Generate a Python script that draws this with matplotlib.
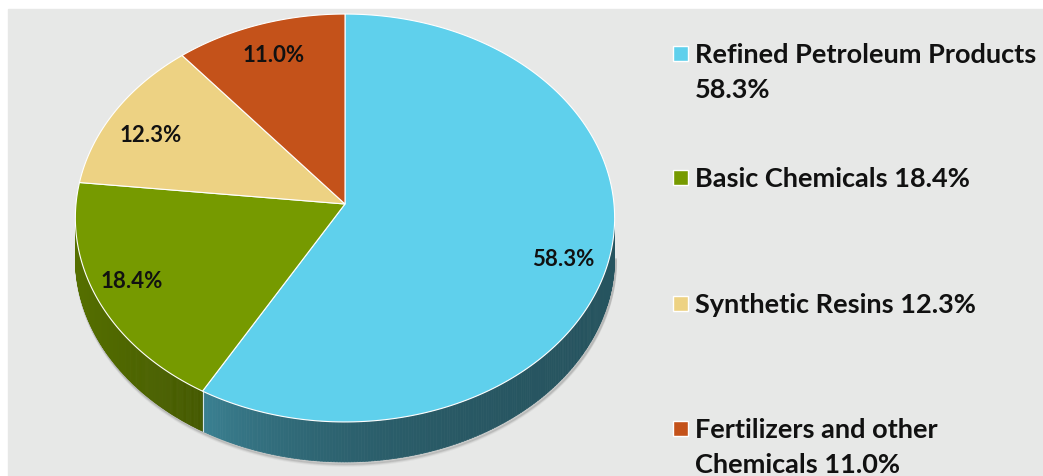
import matplotlib
matplotlib.use('Agg')
import matplotlib.pyplot as plt
from matplotlib.patches import Polygon, Rectangle
from matplotlib.collections import PolyCollection
import numpy as np

# data
categories = ['Refined Petroleum Products', 'Basic Chemicals', 'Synthetic Resins',
              'Fertilizers and other Chemicals']
shares = [58.3, 18.4, 12.3, 11.0]
legend_labels = ['Refined Petroleum Products\n58.3%', 'Basic Chemicals 18.4%',
                 'Synthetic Resins 12.3%', 'Fertilizers and other\nChemicals 11.0%']
colors = ['#5fd0ec', '#769a00', '#edd283', '#c4521a']
side_light = [0.62, 0.72, 0.75, 0.75]
side_dark = [0.39, 0.58, 0.6, 0.6]

# geometry of the tilted pie (pixel space)
cx, cy = 345, 205
rx, ry = 269, 203
k = 0.0686
depth = 40

def proj(theta):
    u = np.sin(theta)
    v = np.cos(theta)
    d = 1 + k * v
    return cx + rx * u / d, cy - ry * v / d

fig = plt.figure(figsize=(10.43, 4.77), dpi=100)
ax = fig.add_axes([0, 0, 1, 1])
ax.set_xlim(0, 1043)
ax.set_ylim(477, 0)
ax.axis('off')
ax.add_patch(Rectangle((8, 10), 1040, 470, color='#e7e8e7', zorder=0))

# silhouette angles
tt = np.linspace(0, 2 * np.pi, 3601)
xs, ys = proj(tt)
t_right = tt[np.argmax(xs)]
t_left = tt[np.argmin(xs)]

bounds = np.concatenate([[0], np.cumsum(shares)]) / 100 * 2 * np.pi

# shadow under the side
ts = np.linspace(t_right, t_left, 300)
sx, sy = proj(ts)
for i, a in enumerate([0.10, 0.07, 0.04]):
    ax.plot(sx + 1, sy + depth + 1.5 + i, color='black', alpha=a, lw=2, zorder=1)

# sides
for i in range(len(shares)):
    a0 = max(bounds[i], t_right)
    a1 = min(bounds[i + 1], t_left)
    if a1 <= a0:
        continue
    t = np.linspace(a0, a1, 200)
    ex, ey = proj(t)
    rgb = np.array(matplotlib.colors.to_rgb(colors[i]))
    polys, cols = [], []
    span = ex.max() - ex.min()
    for j in range(len(t) - 1):
        polys.append([(ex[j], ey[j]), (ex[j + 1], ey[j + 1]),
                      (ex[j + 1], ey[j + 1] + depth), (ex[j], ey[j] + depth)])
        f = (ex[j] - ex.min()) / span
        f = 1 - np.exp(-3 * f) if i == 0 else f
        s = side_light[i] + (side_dark[i] - side_light[i]) * f
        cols.append(rgb * s)
    ax.add_collection(PolyCollection(polys, facecolors=cols, edgecolors=cols,
                                     linewidths=0.5, zorder=2))
    # white seam at slice start edge on the side
    if bounds[i] > t_right and bounds[i] < t_left:
        x0, y0 = proj(bounds[i])
        ax.plot([x0, x0], [y0, y0 + depth], color='white', lw=0.8, alpha=0.8, zorder=3)

# top faces
for i in range(len(shares)):
    t = np.linspace(bounds[i], bounds[i + 1], 200)
    ex, ey = proj(t)
    pts = np.column_stack([np.concatenate([[cx], ex]), np.concatenate([[cy], ey])])
    ax.add_patch(Polygon(pts, closed=True, facecolor=colors[i], edgecolor='white',
                         lw=0.8, zorder=4))

# data labels
label_pos = [(563, 260), (132, 282), (151, 136), (274, 56)]
for (lx, ly), s in zip(label_pos, shares):
    ax.text(lx, ly, '%.1f%%' % s, ha='center', va='center', fontsize=16,
            fontweight='bold', family='Lato', color='#111111', zorder=5)

# legend
leg_base = [63, 187, 313, 438]
for y, lab, c in zip(leg_base, legend_labels, colors):
    ax.add_patch(Rectangle((673, y - 16), 15, 15, facecolor=c, edgecolor='white',
                           lw=1, zorder=5))
    for j, line in enumerate(lab.split('\n')):
        ax.text(695, y + 35 * j, line, ha='left', va='baseline', fontsize=19.5,
                fontweight='bold', family='Lato', color='#111111', zorder=5)

fig.savefig('out.png', dpi=100)
